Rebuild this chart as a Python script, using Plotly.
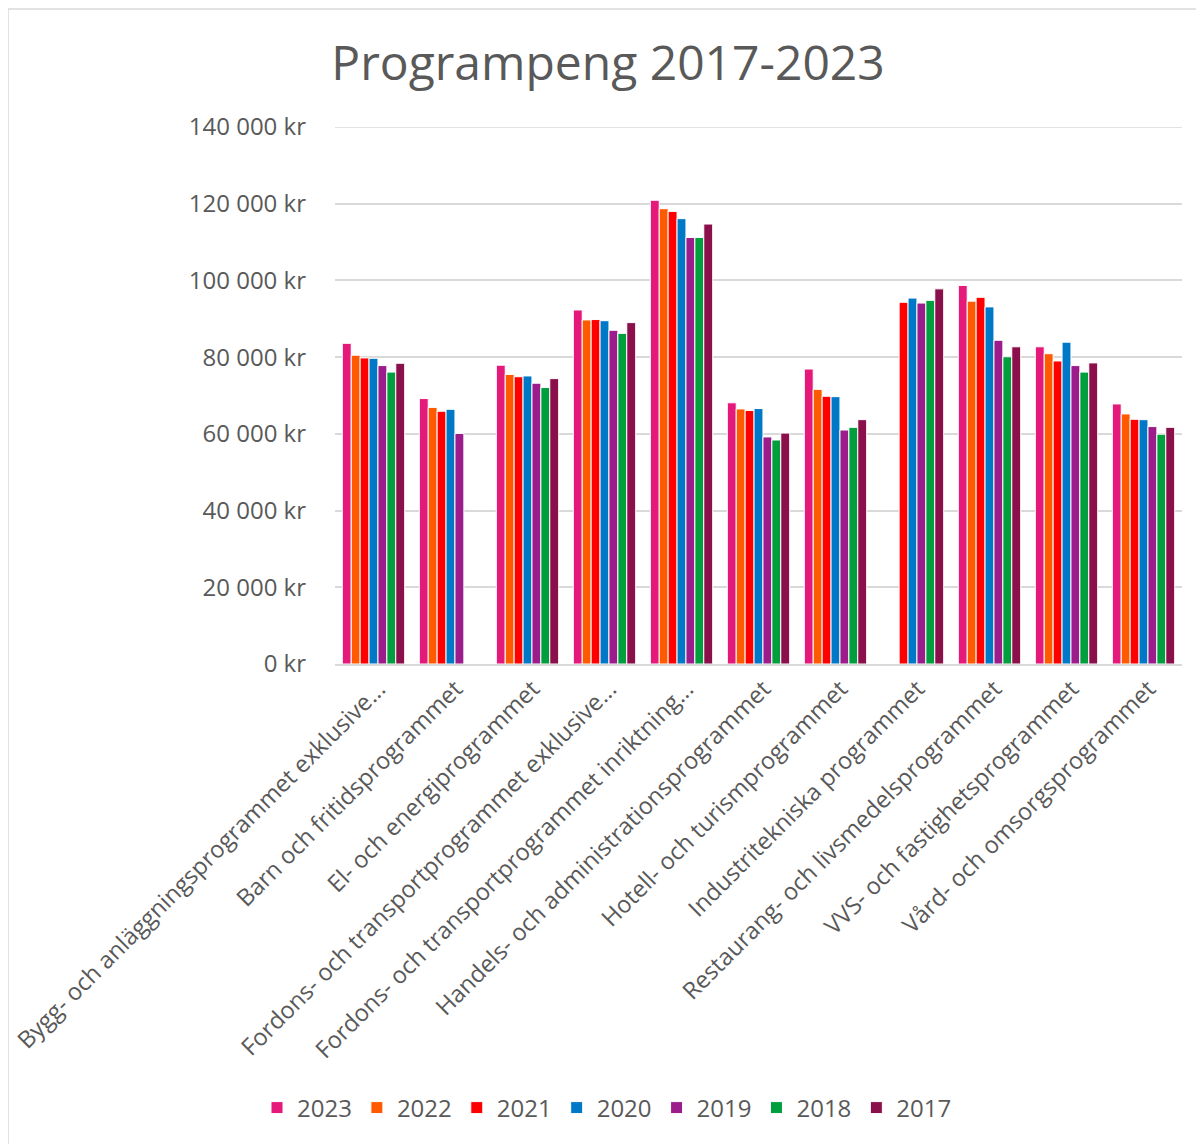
import plotly.graph_objects as go

programs = [
    'Bygg- och anläggningsprogrammet exklusive...',
    'Barn och fritidsprogrammet',
    'El- och energiprogrammet',
    'Fordons- och transportprogrammet exklusive...',
    'Fordons- och transportprogrammet inriktning...',
    'Handels- och administrationsprogrammet',
    'Hotell- och turismprogrammet',
    'Industritekniska programmet',
    'Restaurang- och livsmedelsprogrammet',
    'VVS- och fastighetsprogrammet',
    'Vård- och omsorgsprogrammet',
]

years = ['2023', '2022', '2021', '2020', '2019', '2018', '2017']

v2023 = [83600, 69200, 77900, 92300, 120900, 68100, 76900, None, 98700, 82700, 67800]
v2022 = [80500, 66900, 75500, 89700, 118700, 66500, 71600, None, 94600, 80900, 65200]
v2021 = [79800, 65900, 74900, 89800, 118000, 66100, 69800, 94300, 95600, 79000, 63800]
v2020 = [79700, 66400, 75100, 89500, 116100, 66600, 69700, 95400, 93100, 83900, 63700]
v2019 = [77800, 60100, 73200, 87000, 111200, 59200, 61000, 94100, 84400, 77800, 61900]
v2018 = [76100, None, 72100, 86200, 111200, 58400, 61700, 94800, 80100, 76100, 59900]
v2017 = [78400, None, 74400, 89000, 114700, 60200, 63700, 97800, 82700, 78500, 61700]

y_ticks = [0, 20000, 40000, 60000, 80000, 100000, 120000, 140000]
y_labels = ['0 kr', '20 000 kr', '40 000 kr', '60 000 kr', '80 000 kr',
            '100 000 kr', '120 000 kr', '140 000 kr']

series = [v2023, v2022, v2021, v2020, v2019, v2018, v2017]
colors = ['#E5197A', '#FF5A00', '#FF0000', '#0078C8', '#9C1C8C', '#009E3C', '#8A0F4B']

# plot area in figure pixels
L, T, R, B = 327, 119, 1174, 656
PW, PH = R - L, B - T

fig = go.Figure()

for year, vals, c in zip(years, series, colors):
    fig.add_trace(
        go.Bar(
            x=programs,
            y=vals,
            name=year,
            marker=dict(color=c, line=dict(color='white', width=1)),
        )
    )

fig.update_layout(
    width=1204,
    height=1144,
    barmode='group',
    bargap=0.19,
    bargroupgap=0.0,
    paper_bgcolor='white',
    plot_bgcolor='white',
    font=dict(family='Open Sans', color='#595959', size=24),
    margin=dict(l=L, r=1204 - R, t=T, b=1144 - B),
    title=dict(
        text='Programpeng 2017-2023',
        x=600 / 1204,
        xanchor='center',
        y=1 - 55 / 1144,
        yanchor='middle',
        font=dict(size=48, color='#595959'),
    ),
    legend=dict(
        orientation='h',
        x=(599 - L) / PW,
        xanchor='center',
        y=(B - 1100) / PH,
        yanchor='middle',
        font=dict(size=24),
        itemwidth=30,
        traceorder='normal',
    ),
)

fig.update_yaxes(
    range=[0, 140000],
    tickmode='array',
    tickvals=y_ticks,
    ticktext=y_labels,
    gridcolor='#D9D9D9',
    gridwidth=1.5,
    zeroline=False,
    ticklabelstandoff=28,
    tickfont=dict(size=24),
    automargin=False,
)

fig.update_xaxes(
    tickangle=-45,
    showline=True,
    linecolor='#D9D9D9',
    linewidth=1.5,
    tickfont=dict(size=23.6),
    ticklabelshift=5,
    automargin=False,
)

# top gridline (plotly drops the gridline at the range edge)
fig.add_hline(y=y_ticks[-1], line=dict(color='#D9D9D9', width=1.5))

# chart frame (left and top edges visible in the original)
fig.add_shape(type='line', xref='paper', yref='paper',
              x0=(0 - L) / PW, x1=(1204 - L) / PW,
              y0=(B - 1) / PH, y1=(B - 1) / PH,
              line=dict(color='#D9D9D9', width=1.5))
fig.add_shape(type='line', xref='paper', yref='paper',
              x0=(0 - L) / PW, x1=(0 - L) / PW,
              y0=(B - 1) / PH, y1=(B - 1144) / PH,
              line=dict(color='#D9D9D9', width=1.5))

fig.write_html('out.html')
